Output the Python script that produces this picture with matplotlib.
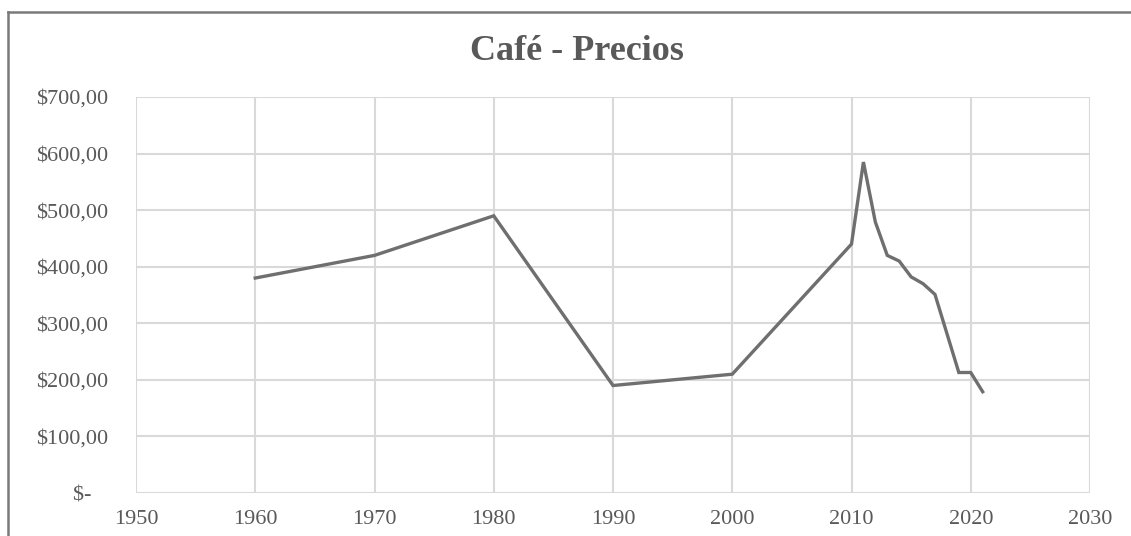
import matplotlib
matplotlib.use('Agg')
from matplotlib import pyplot as plt
from matplotlib.lines import Line2D
from matplotlib.ticker import FuncFormatter

# coffee prices
years = [1960, 1970, 1980, 1990, 2000, 2010, 2011, 2012, 2013, 2014,
         2015, 2016, 2017, 2018, 2019, 2020, 2021]
prices = [380, 420, 490, 190, 210, 440, 585, 479, 420, 410,
          382, 370, 351, 282, 213, 213, 179]

xticks = [1950, 1960, 1970, 1980, 1990, 2000, 2010, 2020, 2030]
yticks = [0, 100, 200, 300, 400, 500, 600, 700]

txt = '#595959'
grid = '#d9d9d9'

plt.rcParams['font.family'] = ['Liberation Serif', 'DejaVu Serif']

fig = plt.figure(figsize=(11.31, 5.36), dpi=100)
ax = fig.add_axes([136/1131, 43/536, (1090-136)/1131, (493-97)/536])

ax.plot(years, prices, color='#6f6f6f', lw=2.4, solid_joinstyle='miter', zorder=3)

ax.set_xlim(1950, 2030)
ax.set_ylim(0, 700)
ax.set_xticks(xticks)
ax.set_yticks(yticks)

def money(v, pos):
    if v == 0:
        return '$-   '
    return '${:,.2f}'.format(v).replace('.', '#').replace(',', '.').replace('#', ',')

ax.yaxis.set_major_formatter(FuncFormatter(money))
ax.grid(True, color=grid, lw=1.5)
ax.set_axisbelow(True)
for s in ax.spines.values():
    s.set_visible(False)
ax.tick_params(length=0, labelsize=16, colors=txt)
ax.tick_params(axis='y', pad=20)
ax.tick_params(axis='x', pad=12)

fig.text(0.51, 0.903, 'Café - Precios', ha='center', va='center',
         fontsize=26, fontweight='bold', color=txt)

# outer frame (cut at right and bottom)
fig.add_artist(Line2D([8/1131, 8/1131], [0, 1 - 12/536], transform=fig.transFigure,
                      color='#7a7a7a', lw=1.8))
fig.add_artist(Line2D([8/1131, 1], [1 - 12/536, 1 - 12/536], transform=fig.transFigure,
                      color='#7a7a7a', lw=1.8))

fig.savefig('out.png', dpi=100)
